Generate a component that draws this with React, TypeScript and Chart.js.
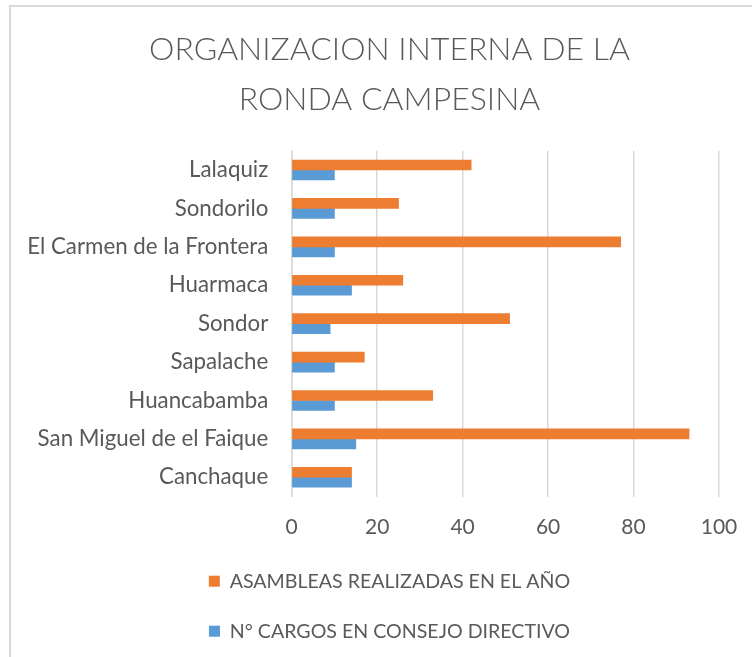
import React, { useEffect, useRef } from "react";
import { Chart, registerables } from "chart.js";

Chart.register(...registerables);

const TITLE_LINES = ["ORGANIZACION INTERNA DE LA", "RONDA CAMPESINA"];
const CATEGORIES = [
  "Lalaquiz",
  "Sondorilo",
  "El Carmen de la Frontera",
  "Huarmaca",
  "Sondor",
  "Sapalache",
  "Huancabamba",
  "San Miguel de el Faique",
  "Canchaque",
];
const ASAMBLEAS = [42, 25, 77, 26, 51, 17, 33, 93, 14];
const CARGOS = [10, 10, 10, 14, 9, 10, 10, 15, 14];
const SERIES_NAMES = ["ASAMBLEAS REALIZADAS EN EL AÑO", "N° CARGOS EN CONSEJO DIRECTIVO"];
const X_MIN = 0;
const X_MAX = 100;
const X_STEP = 20;

const TEXT = "#595959";
const GRID = "#d9d9d9";
const ORANGE = "#ED7D31";
const BLUE = "#5B9BD5";

export default function App() {
  const ref = useRef<HTMLCanvasElement>(null);

  useEffect(() => {
    Chart.defaults.font.family = "Lato, 'Open Sans', sans-serif";
    const chart = new Chart(ref.current as HTMLCanvasElement, {
      type: "bar",
      data: {
        labels: CATEGORIES,
        datasets: [
          { label: SERIES_NAMES[0], data: ASAMBLEAS, backgroundColor: ORANGE, barThickness: 10 },
          { label: SERIES_NAMES[1], data: CARGOS, backgroundColor: BLUE, barThickness: 10 },
        ],
      },
      options: {
        indexAxis: "y",
        animation: false,
        responsive: false,
        layout: { padding: 0 },
        plugins: {
          title: {
            display: true,
            text: TITLE_LINES,
            color: TEXT,
            font: { size: 32, weight: "300", lineHeight: "50px" } as any,
            padding: { top: 18, bottom: 25.8 },
          },
          legend: {
            position: "bottom",
            labels: {
              boxWidth: 11,
              boxHeight: 11,
              padding: 30.4,
              color: TEXT,
              font: { size: 19.6 },
            },
          },
          tooltip: { enabled: false },
        },
        scales: {
          x: {
            min: X_MIN,
            max: X_MAX,
            ticks: { stepSize: X_STEP, color: TEXT, font: { size: 21 }, padding: 17.9 },
            grid: { color: GRID, lineWidth: 1.5, drawTicks: false },
            border: { display: false },
            afterFit: (s: any) => {
              s.height = 44.5;
            },
          },
          y: {
            grid: { display: false, drawTicks: false },
            border: { display: true, color: GRID, width: 1.5 },
            ticks: { color: TEXT, font: { size: 22.3 }, padding: 23.4 },
            afterFit: (s: any) => {
              s.width = 280.7;
            },
          },
          yr: {
            type: "linear",
            position: "right",
            display: true,
            grid: { display: false, drawTicks: false },
            border: { display: false },
            ticks: { display: false },
            afterFit: (s: any) => {
              s.width = 49;
            },
          },
        },
      } as any,
    });
    return () => chart.destroy();
  }, []);

  return (
    <div
      style={{
        position: "fixed",
        left: 0,
        top: 0,
        width: 752,
        height: 657,
        overflow: "hidden",
        background: "#fff",
      }}
    >
      <div
        style={{
          position: "absolute",
          left: 9,
          top: 5,
          width: 757,
          height: 700,
          borderLeft: "2px solid #d9d9d9",
          borderTop: "2px solid #d9d9d9",
          background: "#fff",
        }}
      >
        <canvas ref={ref} width={757} height={644} style={{ display: "block" }} />
      </div>
    </div>
  );
}
